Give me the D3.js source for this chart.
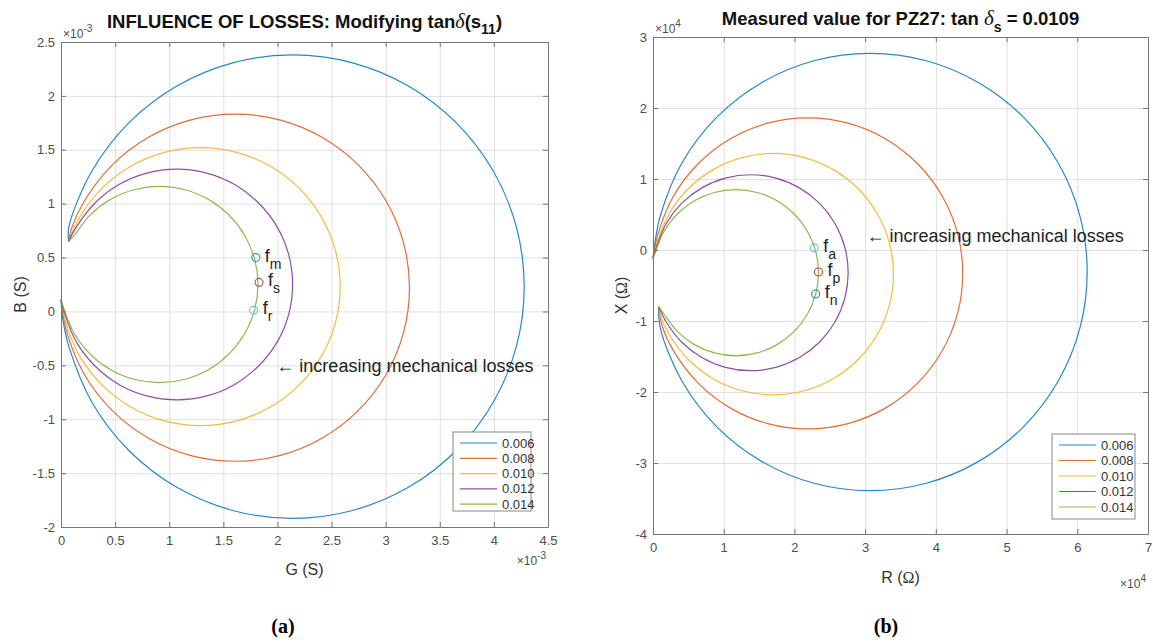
<!DOCTYPE html>
<html>
<head>
<meta charset="utf-8">
<script src="https://cdn.jsdelivr.net/npm/d3@7"></script>
<style>
  body { margin: 0; background: #fff; }
</style>
</head>
<body>
<svg id="fig" width="1153" height="643" font-family="Liberation Sans, Arial, Helvetica, sans-serif"></svg>
<script>
// legend entries (tan delta values)
var seriesNames = ["0.006", "0.008", "0.010", "0.012", "0.014"];

// (a) admittance, G and B in units of 1e-3 S
var gb006 = [[0.07,0.65],[0.073,0.787],[0.287,1.305],[0.627,1.75],[1.07,2.092],[1.586,2.307],[2.14,2.38],[2.694,2.307],[3.21,2.092],[3.653,1.75],[3.993,1.305],[4.207,0.787],[4.28,0.23],[4.207,-0.327],[3.993,-0.845],[3.653,-1.29],[3.21,-1.632],[2.694,-1.847],[2.14,-1.92],[1.586,-1.847],[1.07,-1.632],[0.627,-1.29],[0.287,-0.845],[0.073,-0.327],[0.02,-0.09],[0.0,0.11]];
var gb008 = [[0.07,0.65],[0.097,0.77],[0.216,1.025],[0.472,1.358],[0.805,1.614],[1.193,1.775],[1.61,1.83],[2.027,1.775],[2.415,1.614],[2.748,1.358],[3.004,1.025],[3.165,0.637],[3.22,0.22],[3.165,-0.197],[3.004,-0.585],[2.748,-0.918],[2.415,-1.174],[2.027,-1.335],[1.61,-1.39],[1.193,-1.335],[0.805,-1.174],[0.472,-0.918],[0.216,-0.585],[0.055,-0.197],[0.0,0.11]];
var gb010 = [[0.07,0.65],[0.173,0.875],[0.378,1.142],[0.645,1.347],[0.956,1.476],[1.29,1.52],[1.624,1.476],[1.935,1.347],[2.202,1.142],[2.407,0.875],[2.536,0.564],[2.58,0.23],[2.536,-0.104],[2.407,-0.415],[2.202,-0.682],[1.935,-0.887],[1.624,-1.016],[1.29,-1.06],[0.956,-1.016],[0.645,-0.887],[0.378,-0.682],[0.173,-0.415],[0.044,-0.104],[0.0,0.11]];
var gb012 = [[0.07,0.65],[0.143,0.785],[0.314,1.006],[0.535,1.177],[0.793,1.284],[1.07,1.32],[1.347,1.284],[1.605,1.177],[1.826,1.006],[1.997,0.785],[2.104,0.527],[2.14,0.25],[2.104,-0.027],[1.997,-0.285],[1.826,-0.506],[1.605,-0.677],[1.347,-0.784],[1.07,-0.82],[0.793,-0.784],[0.535,-0.677],[0.314,-0.506],[0.143,-0.285],[0.036,-0.027],[0.0,0.11]];
var gb014 = [[0.07,0.65],[0.122,0.705],[0.267,0.893],[0.455,1.038],[0.674,1.129],[0.91,1.16],[1.146,1.129],[1.365,1.038],[1.553,0.893],[1.698,0.705],[1.789,0.486],[1.82,0.25],[1.789,0.014],[1.698,-0.205],[1.553,-0.393],[1.365,-0.538],[1.146,-0.629],[0.91,-0.66],[0.674,-0.629],[0.455,-0.538],[0.267,-0.393],[0.122,-0.205],[0.031,0.014],[0.0,0.11]];
var gbMarks = [{ x: 1.80, y: 0.50, sub: "m" }, { x: 1.83, y: 0.27, sub: "s" }, { x: 1.78, y: 0.01, sub: "r" }];

// (b) impedance, R and X in units of 1e4 Ohm
var rx006 = [[0.0,-0.12],[0.03,0.118],[0.104,0.485],[0.411,1.229],[0.899,1.868],[1.535,2.357],[2.275,2.665],[3.07,2.77],[3.865,2.665],[4.605,2.357],[5.241,1.868],[5.729,1.229],[6.036,0.485],[6.14,-0.31],[6.036,-1.105],[5.729,-1.849],[5.241,-2.488],[4.605,-2.977],[3.865,-3.285],[3.07,-3.39],[2.275,-3.285],[1.535,-2.977],[0.899,-2.488],[0.411,-1.849],[0.104,-1.105],[0.08,-0.8]];
var rx008 = [[0.0,-0.12],[0.074,0.237],[0.293,0.765],[0.642,1.218],[1.095,1.567],[1.623,1.786],[2.19,1.86],[2.757,1.786],[3.285,1.567],[3.738,1.218],[4.087,0.765],[4.306,0.237],[4.38,-0.33],[4.306,-0.897],[4.087,-1.425],[3.738,-1.878],[3.285,-2.227],[2.757,-2.446],[2.19,-2.52],[1.623,-2.446],[1.095,-2.227],[0.642,-1.878],[0.293,-1.425],[0.132,-1.079],[0.08,-0.8]];
var rx010 = [[0.0,-0.12],[0.058,0.10],[0.228,0.51],[0.498,0.862],[0.85,1.132],[1.26,1.302],[1.70,1.36],[2.14,1.302],[2.55,1.132],[2.902,0.862],[3.172,0.51],[3.342,0.10],[3.40,-0.34],[3.342,-0.78],[3.172,-1.19],[2.902,-1.542],[2.55,-1.812],[2.14,-1.982],[1.70,-2.04],[1.26,-1.982],[0.85,-1.812],[0.498,-1.542],[0.228,-1.19],[0.103,-0.921],[0.08,-0.8]];
var rx012 = [[0.0,-0.12],[0.047,0.037],[0.185,0.37],[0.404,0.656],[0.69,0.875],[1.023,1.013],[1.38,1.06],[1.737,1.013],[2.07,0.875],[2.356,0.656],[2.575,0.37],[2.713,0.037],[2.76,-0.32],[2.713,-0.677],[2.575,-1.01],[2.356,-1.296],[2.07,-1.515],[1.737,-1.653],[1.38,-1.70],[1.023,-1.653],[0.69,-1.515],[0.404,-1.296],[0.185,-1.01],[0.08,-0.8]];
var rx014 = [[0.0,-0.12],[0.04,-0.017],[0.157,0.265],[0.343,0.507],[0.585,0.693],[0.867,0.81],[1.17,0.85],[1.473,0.81],[1.755,0.693],[1.997,0.507],[2.183,0.265],[2.30,-0.017],[2.34,-0.32],[2.30,-0.623],[2.183,-0.905],[1.997,-1.147],[1.755,-1.333],[1.473,-1.45],[1.17,-1.49],[0.867,-1.45],[0.585,-1.333],[0.343,-1.147],[0.157,-0.905],[0.08,-0.8]];
var rxMarks = [{ x: 2.28, y: 0.03, sub: "a" }, { x: 2.34, y: -0.31, sub: "p" }, { x: 2.30, y: -0.62, sub: "n" }];

// ticks
var gTicks = [0, 0.5, 1, 1.5, 2, 2.5, 3, 3.5, 4, 4.5];
var bTicks = [-2, -1.5, -1, -0.5, 0, 0.5, 1, 1.5, 2, 2.5];
var rTicks = [0, 1, 2, 3, 4, 5, 6, 7];
var xTicks = [-4, -3, -2, -1, 0, 1, 2, 3];

// annotation anchors in data units
var noteA = [1.99, -0.56];
var noteB = [3.02, 0.11];

var colors = ["#0072BD", "#D95319", "#EDB120", "#7E2F8E", "#77AC30"];
var markColorsA = ["#2f93ad", "#b0503f", "#62c4dc"];
var markColorsB = ["#62c4dc", "#c0443a", "#2f86b8"];
var serif = "Liberation Serif, Times New Roman, serif";

var svg = d3.select("#fig");

function drawPanel(cfg) {
    var x = d3.scaleLinear().domain(cfg.xDom).range([cfg.left, cfg.right]);
    var y = d3.scaleLinear().domain(cfg.yDom).range([cfg.bottom, cfg.top]);
    var w = cfg.right - cfg.left, h = cfg.bottom - cfg.top;
    var g = svg.append("g");

    // grid
    g.append("g").attr("transform", "translate(0," + cfg.bottom + ")")
        .call(d3.axisBottom(x).tickValues(cfg.xTicks).tickSize(-h).tickFormat(""))
        .call(function (s) { s.select(".domain").remove(); s.selectAll("line").attr("stroke", "#e0e0e0"); });
    g.append("g").attr("transform", "translate(" + cfg.left + ",0)")
        .call(d3.axisLeft(y).tickValues(cfg.yTicks).tickSize(-w).tickFormat(""))
        .call(function (s) { s.select(".domain").remove(); s.selectAll("line").attr("stroke", "#e0e0e0"); });

    // curves
    var line = d3.line()
        .x(function (d) { return x(d[0]); })
        .y(function (d) { return y(d[1]); })
        .curve(d3.curveCatmullRom.alpha(0.5));
    cfg.series.forEach(function (s, i) {
        g.append("path").attr("d", line(s))
            .attr("fill", "none").attr("stroke", colors[i]).attr("stroke-width", 1.2)
            .attr("stroke-opacity", 0.85);
    });

    // markers
    cfg.marks.forEach(function (m, i) {
        g.append("circle").attr("cx", x(m.x)).attr("cy", y(m.y)).attr("r", 4)
            .attr("fill", "none").attr("stroke", cfg.markColors[i]).attr("stroke-width", 1.1);
        var t = g.append("text").attr("x", x(m.x) + 9).attr("y", y(m.y) + 4)
            .attr("font-size", 18).attr("fill", "#222");
        t.append("tspan").text("f");
        t.append("tspan").attr("dy", 7).attr("font-size", 14).text(m.sub);
    });

    // axes with inward ticks on all sides
    function styleAx(s) {
        s.attr("font-family", null);
        s.select(".domain").attr("stroke", "#777");
        s.selectAll(".tick line").attr("stroke", "#777");
        s.selectAll(".tick text").attr("fill", "#4d4d4d").attr("font-size", 13);
    }
    g.append("g").attr("transform", "translate(0," + cfg.bottom + ")")
        .call(d3.axisBottom(x).tickValues(cfg.xTicks).tickSizeInner(-5).tickSizeOuter(0).tickPadding(9).tickFormat(String))
        .call(styleAx);
    g.append("g").attr("transform", "translate(0," + cfg.top + ")")
        .call(d3.axisTop(x).tickValues(cfg.xTicks).tickSizeInner(-5).tickSizeOuter(0).tickFormat(""))
        .call(styleAx);
    g.append("g").attr("transform", "translate(" + cfg.left + ",0)")
        .call(d3.axisLeft(y).tickValues(cfg.yTicks).tickSizeInner(-5).tickSizeOuter(0).tickPadding(6).tickFormat(String))
        .call(styleAx);
    g.append("g").attr("transform", "translate(" + cfg.right + ",0)")
        .call(d3.axisRight(y).tickValues(cfg.yTicks).tickSizeInner(-5).tickSizeOuter(0).tickFormat(""))
        .call(styleAx);

    // exponent labels
    function expo(px, py, sup, anchor) {
        var t = g.append("text").attr("x", px).attr("y", py).attr("font-size", 12)
            .attr("fill", "#4d4d4d").attr("text-anchor", anchor);
        t.append("tspan").text("\u00d710");
        t.append("tspan").attr("dy", -6).attr("font-size", 10).text(sup);
    }
    expo(cfg.left + 2, cfg.top - 4, cfg.expo, "start");
    expo(cfg.right - 2, cfg.bottom + cfg.expoDy, cfg.expo, "end");

    // axis labels
    var xl = g.append("text").attr("x", (cfg.left + cfg.right) / 2).attr("y", cfg.bottom + cfg.xlabDy)
        .attr("text-anchor", "middle").attr("font-size", 16).attr("fill", "#333");
    cfg.xlab(xl);
    var yl = g.append("text").attr("transform", "translate(" + cfg.ylabX + "," + ((cfg.top + cfg.bottom) / 2 + 10) + ") rotate(-90)")
        .attr("text-anchor", "middle").attr("font-size", 16).attr("fill", "#333");
    cfg.ylab(yl);

    // title
    var tt = g.append("text").attr("x", (cfg.left + cfg.right) / 2).attr("y", cfg.titleY)
        .attr("text-anchor", "middle").attr("font-size", 18.5).attr("font-weight", "bold").attr("fill", "#111");
    cfg.title(tt);

    // annotation
    g.append("text").attr("x", x(cfg.note[0])).attr("y", y(cfg.note[1]))
        .attr("font-size", 18).attr("fill", "#222").text("\u2190 increasing mechanical losses");

    // legend
    var L = cfg.legend;
    var lg = g.append("g");
    lg.append("rect").attr("x", L.x).attr("y", L.y).attr("width", L.w).attr("height", L.h)
        .attr("fill", "#fff").attr("stroke", "#888").attr("stroke-width", 1);
    seriesNames.forEach(function (n, i) {
        var yy = L.y + 11 + i * L.step;
        lg.append("line").attr("x1", L.x + 7).attr("x2", L.x + 44).attr("y1", yy).attr("y2", yy)
            .attr("stroke", colors[i]).attr("stroke-width", 1.2).attr("stroke-opacity", 0.85);
        lg.append("text").attr("x", L.x + 49).attr("y", yy + 4.5).attr("font-size", 13)
            .attr("fill", "#333").text(n);
    });
}

drawPanel({
    left: 61, right: 548, top: 42, bottom: 527,
    xDom: [0, 4.5], yDom: [-2, 2.5], xTicks: gTicks, yTicks: bTicks,
    series: [gb006, gb008, gb010, gb012, gb014],
    marks: gbMarks, markColors: markColorsA,
    expo: "-3", expoDy: 38, xlabDy: 48, ylabX: 26, note: noteA, titleY: 28,
    legend: { x: 453, y: 432, w: 78, h: 79, step: 15.3 },
    xlab: function (t) { t.text("G (S)"); },
    ylab: function (t) { t.text("B (S)"); },
    title: function (t) {
        t.append("tspan").text("INFLUENCE OF LOSSES: Modifying tan");
        t.append("tspan").attr("font-family", serif).attr("font-style", "italic").attr("font-weight", "normal").attr("font-size", 20).text("\u03b4");
        t.append("tspan").text("(s");
        t.append("tspan").attr("dy", 6).attr("font-size", 14).text("11");
        t.append("tspan").attr("dy", -6).text(")");
    }
});

drawPanel({
    left: 653, right: 1148, top: 37, bottom: 534,
    xDom: [0, 7], yDom: [-4, 3], xTicks: rTicks, yTicks: xTicks,
    series: [rx006, rx008, rx010, rx012, rx014],
    marks: rxMarks, markColors: markColorsB,
    expo: "4", expoDy: 54, xlabDy: 49, ylabX: 627, note: noteB, titleY: 25,
    legend: { x: 1052, y: 434, w: 83, h: 85, step: 15.5 },
    xlab: function (t) {
        t.append("tspan").text("R (");
        t.append("tspan").attr("font-family", serif).text("\u03a9");
        t.append("tspan").text(")");
    },
    ylab: function (t) {
        t.append("tspan").text("X (");
        t.append("tspan").attr("font-family", serif).text("\u03a9");
        t.append("tspan").text(")");
    },
    title: function (t) {
        t.append("tspan").text("Measured value for PZ27: tan ");
        t.append("tspan").attr("font-family", serif).attr("font-style", "italic").attr("font-weight", "normal").attr("font-size", 21).text("\u03b4");
        t.append("tspan").attr("dy", 7).attr("font-size", 14).text("s");
        t.append("tspan").attr("dy", -7).text(" = 0.0109");
    }
});

// sub-figure captions
svg.append("text").attr("x", 283).attr("y", 633).attr("text-anchor", "middle")
    .attr("font-family", serif).attr("font-size", 20).attr("font-weight", "bold")
    .text("(a)");
svg.append("text").attr("x", 886).attr("y", 633).attr("text-anchor", "middle")
    .attr("font-family", serif).attr("font-size", 20).attr("font-weight", "bold")
    .text("(b)");
</script>
</body>
</html>
